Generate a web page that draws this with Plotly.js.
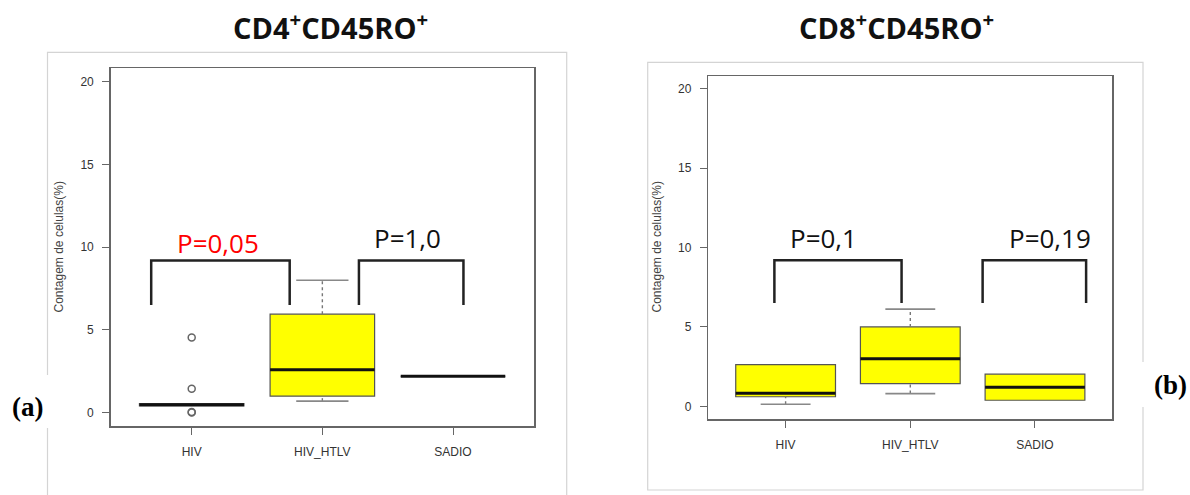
<!DOCTYPE html>
<html>
<head>
<meta charset="utf-8">
<script src="https://cdn.plot.ly/plotly-3.0.1.min.js"></script>
<style>html,body{margin:0;padding:0;background:#fff;}#chart{width:1190px;height:495px;}</style>
</head>
<body>
<div id="chart"></div>
<script>
// ---------- data ----------
const categories = ['HIV', 'HIV_HTLV', 'SADIO'];

// Panel (a) CD4+CD45RO+
const a_q1     = [0.42, 1.0, 2.2];
const a_median = [0.48, 2.6, 2.2];
const a_q3     = [0.55, 5.95, 2.2];
const a_lower  = [0.42, 0.7, 2.2];
const a_upper  = [0.55, 8.0, 2.2];
const a_outlierCat = ['HIV', 'HIV', 'HIV', 'HIV'];
const a_outlierVal = [4.55, 1.45, 0.05, 0.02];
const a_pvalues = ['P=0,05', 'P=1,0'];

// Panel (b) CD8+CD45RO+
const b_q1     = [0.6, 1.43, 0.38];
const b_median = [0.82, 3.0, 1.2];
const b_q3     = [2.63, 5.0, 2.02];
const b_lower  = [0.13, 0.8, 0.38];
const b_upper  = [2.63, 6.12, 2.02];
const b_pvalues = ['P=0,1', 'P=0,19'];

const yTicks = [0, 5, 10, 15, 20];
const yTitle = 'Contagem de celulas(%)';
const titleA = 'CD4<sup>+</sup>CD45RO<sup>+</sup>';
const titleB = 'CD8<sup>+</sup>CD45RO<sup>+</sup>';

// ---------- layout helpers ----------
const W = 1190, H = 495;
const px = x => x / W;
const py = y => 1 - y / H;
const idx = c => categories.indexOf(c);
const xPos = categories.map((c, i) => i);

const BOX_W = 0.8, CAP_W = 0.4;
const YELLOW = '#ffff00';

// box body (quartiles); whiskers are drawn separately so the stems can be dashed as in R
function boxTrace(q1, med, q3, xa, ya) {
  return {
    type: 'box', x: xPos, q1: q1, median: med, q3: q3,
    lowerfence: q1, upperfence: q3,
    width: BOX_W, whiskerwidth: 0, boxpoints: false,
    fillcolor: YELLOW, line: {color: '#555', width: 1.2},
    xaxis: xa, yaxis: ya, showlegend: false, hoverinfo: 'skip'
  };
}
function whiskerTraces(q1, q3, lo, hi, xa, ya) {
  const sx = [], sy = [], cx = [], cy = [];
  xPos.forEach(i => {
    if (hi[i] > q3[i]) { sx.push(i, i, null); sy.push(q3[i], hi[i], null); }
    if (lo[i] < q1[i]) { sx.push(i, i, null); sy.push(lo[i], q1[i], null); }
    if (hi[i] > q3[i] || lo[i] < q1[i] || true) {
      if (hi[i] !== q3[i]) { cx.push(i - CAP_W / 2, i + CAP_W / 2, null); cy.push(hi[i], hi[i], null); }
      if (lo[i] !== q1[i]) { cx.push(i - CAP_W / 2, i + CAP_W / 2, null); cy.push(lo[i], lo[i], null); }
    }
  });
  return [
    {type: 'scatter', mode: 'lines', x: sx, y: sy, line: {color: '#777', width: 1.4, dash: '3px,3px'},
     xaxis: xa, yaxis: ya, showlegend: false, hoverinfo: 'skip'},
    {type: 'scatter', mode: 'lines', x: cx, y: cy, line: {color: '#888', width: 1.6},
     xaxis: xa, yaxis: ya, showlegend: false, hoverinfo: 'skip'}
  ];
}
function medianTrace(med, xa, ya) {
  const xs = [], ys = [];
  med.forEach((m, i) => { xs.push(i - BOX_W / 2, i + BOX_W / 2, null); ys.push(m, m, null); });
  return {type: 'scatter', mode: 'lines', x: xs, y: ys, line: {color: '#111', width: 3},
          xaxis: xa, yaxis: ya, showlegend: false, hoverinfo: 'skip'};
}

const traces = [].concat(
  whiskerTraces(a_q1, a_q3, a_lower, a_upper, 'x', 'y'),
  [boxTrace(a_q1, a_median, a_q3, 'x', 'y'),
   medianTrace(a_median, 'x', 'y'),
   {type: 'scatter', mode: 'markers', x: a_outlierCat.map(idx), y: a_outlierVal,
    marker: {symbol: 'circle-open', size: 7, color: '#666', line: {width: 1.5, color: '#666'}},
    xaxis: 'x', yaxis: 'y', showlegend: false, hoverinfo: 'skip'}],
  whiskerTraces(b_q1, b_q3, b_lower, b_upper, 'x2', 'y2'),
  [boxTrace(b_q1, b_median, b_q3, 'x2', 'y2'),
   medianTrace(b_median, 'x2', 'y2')]
);

const tickFont = {family: 'Liberation Sans, Arial, sans-serif', size: 12, color: '#333'};
function xAxis(domain, anchor) {
  return {domain: domain, anchor: anchor, range: [-0.62, 2.62],
    tickmode: 'array', tickvals: xPos, ticktext: categories,
    showgrid: false, zeroline: false, showline: true, mirror: true,
    linecolor: '#666', linewidth: 1.5, ticks: 'outside', ticklen: 7, tickcolor: '#666',
    tickfont: tickFont, ticklabelstandoff: 7, fixedrange: true};
}
function yAxis(domain, anchor) {
  return {domain: domain, anchor: anchor, range: [-0.8, 20.8],
    tickmode: 'array', tickvals: yTicks, ticktext: yTicks.map(String),
    showgrid: false, zeroline: false, showline: true, mirror: true,
    linecolor: '#666', linewidth: 1.5, ticks: 'outside', ticklen: 7, tickcolor: '#666',
    tickfont: tickFont, ticklabelstandoff: 6, fixedrange: true};
}

// bracket geometry (annotation layout, in axis units)
const bracketsA = [{x0: -0.31, x1: 0.75}, {x0: 1.28, x1: 2.08}];
const bracketsB = [{x0: -0.09, x1: 0.93}, {x0: 1.58, x1: 2.41}];
const BR_TOP = 9.2, BR_LEG = 6.5;
function bracketShapes(list, xr, yr) {
  return list.map(b => ({type: 'path', xref: xr, yref: yr,
    path: `M ${b.x0} ${BR_LEG} L ${b.x0} ${BR_TOP} L ${b.x1} ${BR_TOP} L ${b.x1} ${BR_LEG}`,
    line: {color: '#222', width: 2.5}, layer: 'above'}));
}

const pFont = {family: 'Open Sans, sans-serif', size: 26, color: '#111'};
const pPosA = [{x: 0.2, y: 10.25, color: '#ff0000'}, {x: 1.65, y: 10.56, color: '#111'}];
const pPosB = [{x: 0.30, y: 10.6, color: '#111'}, {x: 2.12, y: 10.6, color: '#111'}];

const annotations = [];
a_pvalues.forEach((t, i) => annotations.push({xref: 'x', yref: 'y', x: pPosA[i].x, y: pPosA[i].y,
  text: t, showarrow: false, font: Object.assign({}, pFont, {color: pPosA[i].color})}));
b_pvalues.forEach((t, i) => annotations.push({xref: 'x2', yref: 'y2', x: pPosB[i].x, y: pPosB[i].y,
  text: t, showarrow: false, font: Object.assign({}, pFont, {color: pPosB[i].color})}));

const titleFont = {family: 'Open Sans, sans-serif', size: 29, color: '#111', weight: 'bold'};
annotations.push({xref: 'paper', yref: 'paper', x: px(330), y: py(26), text: '<b>' + titleA + '</b>',
  showarrow: false, font: titleFont, xanchor: 'center', yanchor: 'middle'});
annotations.push({xref: 'paper', yref: 'paper', x: px(896), y: py(26), text: '<b>' + titleB + '</b>',
  showarrow: false, font: titleFont, xanchor: 'center', yanchor: 'middle'});

const yTitleFont = {family: 'Liberation Sans, Arial, sans-serif', size: 12, color: '#444'};
annotations.push({xref: 'paper', yref: 'paper', x: px(58.5), y: py(247), text: yTitle, textangle: -90,
  showarrow: false, font: yTitleFont, xanchor: 'center', yanchor: 'middle'});
annotations.push({xref: 'paper', yref: 'paper', x: px(656.5), y: py(247), text: yTitle, textangle: -90,
  showarrow: false, font: yTitleFont, xanchor: 'center', yanchor: 'middle'});

const labelFont = {family: 'Liberation Serif, Times New Roman, serif', size: 27, color: '#000'};
annotations.push({xref: 'paper', yref: 'paper', x: px(27.5), y: py(407), text: '<b>(a)</b>',
  showarrow: false, font: labelFont, xanchor: 'center', yanchor: 'middle'});
annotations.push({xref: 'paper', yref: 'paper', x: px(1170), y: py(385), text: '<b>(b)</b>',
  showarrow: false, font: labelFont, xanchor: 'center', yanchor: 'middle'});

const borderColor = '#d4d4d4';
const shapes = [
  {type: 'path', xref: 'paper', yref: 'paper', layer: 'above',
   path: `M ${px(47.5)} ${py(500)} L ${px(47.5)} ${py(52.3)} L ${px(566.7)} ${py(52.3)} L ${px(566.7)} ${py(500)}`,
   line: {color: borderColor, width: 1.2}},
  {type: 'rect', xref: 'paper', yref: 'paper', layer: 'above',
   x0: px(647.7), x1: px(1143), y0: py(490), y1: py(62.3), line: {color: borderColor, width: 1.2}},
  {type: 'rect', xref: 'paper', yref: 'paper', layer: 'above',
   x0: px(0), x1: px(77), y0: py(428), y1: py(375), fillcolor: '#fff', line: {width: 0}},
  {type: 'rect', xref: 'paper', yref: 'paper', layer: 'above',
   x0: px(1122), x1: px(1190), y0: py(407), y1: py(362), fillcolor: '#fff', line: {width: 0}}
].concat(bracketShapes(bracketsA, 'x', 'y'), bracketShapes(bracketsB, 'x2', 'y2'));

const layout = {
  width: W, height: H, margin: {l: 0, r: 0, t: 0, b: 0},
  paper_bgcolor: '#ffffff', plot_bgcolor: '#ffffff', showlegend: false,
  xaxis: xAxis([px(110.7), px(534)], 'y'),
  yaxis: yAxis([py(426), py(68.3)], 'x'),
  xaxis2: xAxis([px(708.3), px(1112.3)], 'y2'),
  yaxis2: yAxis([py(419), py(76)], 'x2'),
  shapes: shapes, annotations: annotations
};

Plotly.newPlot('chart', traces, layout, {displayModeBar: false, staticPlot: true});
</script>
</body>
</html>
